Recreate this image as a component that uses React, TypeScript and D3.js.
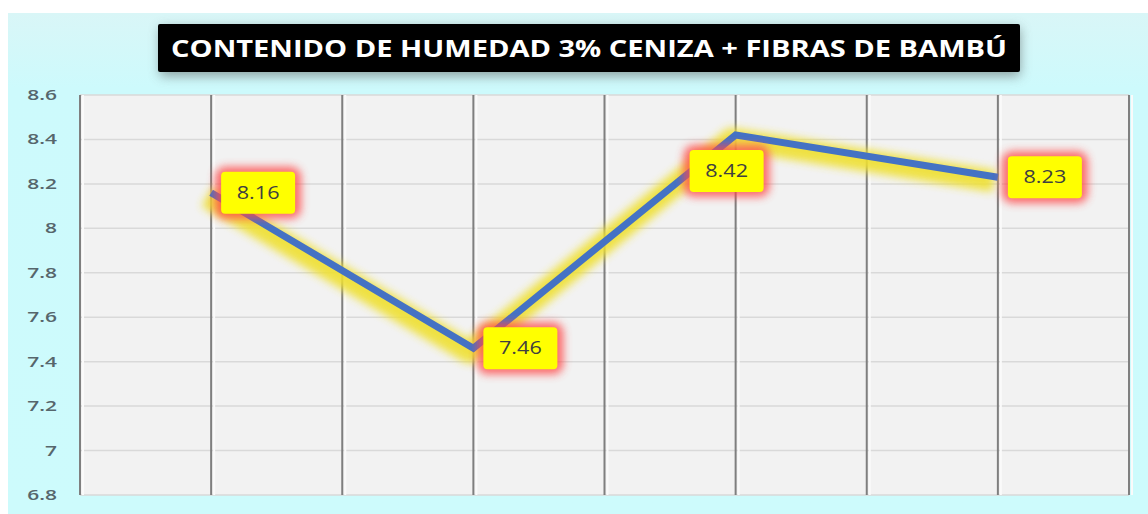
import * as d3 from "d3";
import React from "react";

// data
const samplePositions = [1, 3, 5, 7];
const humidity = [8.16, 7.46, 8.42, 8.23];
const xGridTicks = [0, 1, 2, 3, 4, 5, 6, 7, 8];
const yTicks = [6.8, 7, 7.2, 7.4, 7.6, 7.8, 8, 8.2, 8.4, 8.6];
const title = "CONTENIDO DE HUMEDAD 3% CENIZA + FIBRAS DE BAMBÚ";

// label placement per point (layout only)
const labelPlacement = ["right", "right", "below", "right"];

const W = 1148;
const H = 514;
const plot = { left: 80, right: 1129, top: 95, bottom: 495 };

const App = () => {
  const x = d3.scaleLinear().domain([0, 8]).range([plot.left, plot.right]);
  const y = d3.scaleLinear().domain([6.8, 8.6]).range([plot.bottom, plot.top]);

  const pts = humidity.map((v, i) => ({ v, px: x(samplePositions[i]), py: y(v) }));
  const line = d3
    .line<{ px: number; py: number }>()
    .x((d) => d.px)
    .y((d) => d.py);

  const labelW = 74;
  const labelH = 42;

  return (
    <svg
      width={W}
      height={H}
      style={{ position: "absolute", left: 0, top: 0 }}
      fontFamily="'Open Sans', sans-serif"
    >
      <defs>
        <filter id="soft" x="-50%" y="-50%" width="200%" height="200%">
          <feGaussianBlur stdDeviation="4" />
        </filter>
        <filter id="soft2" x="-50%" y="-50%" width="200%" height="200%">
          <feGaussianBlur stdDeviation="4" />
        </filter>
        <filter id="shadow" x="-20%" y="-80%" width="140%" height="260%">
          <feGaussianBlur stdDeviation="6" />
        </filter>
        <linearGradient id="bg" x1="0" y1="0" x2="0" y2="1">
          <stop offset="0" stopColor="#d9f6f7" />
          <stop offset="0.15" stopColor="#cdfafc" />
          <stop offset="1" stopColor="#cdfbfc" />
        </linearGradient>
      </defs>

      <rect x={0} y={0} width={W} height={H} fill="#ffffff" />
      <rect x={8} y={13} width={W - 8} height={H - 13} fill="url(#bg)" />

      {/* title */}
      <rect x={160} y={28} width={860} height={48} fill="#7a8a8a" opacity={0.8} filter="url(#shadow)" />
      <rect x={158} y={24} width={862} height={48} rx={2} fill="#000000" />
      <text
        x={589}
        y={57}
        textAnchor="middle"
        fill="#ffffff"
        fontWeight="bold"
        fontSize={24}
        textLength={836}
        lengthAdjust="spacingAndGlyphs"
      >
        {title}
      </text>

      {/* plot area */}
      <rect
        x={plot.left}
        y={plot.top}
        width={plot.right - plot.left}
        height={plot.bottom - plot.top}
        fill="#f2f2f2"
      />
      {yTicks.map((t) => (
        <line
          key={"h" + t}
          x1={plot.left}
          x2={plot.right}
          y1={y(t)}
          y2={y(t)}
          stroke="#d9d9d9"
          strokeWidth={1.5}
        />
      ))}
      {xGridTicks.map((t) => (
        <g key={"v" + t}>
          <line
            x1={x(t) + 3}
            x2={x(t) + 3}
            y1={plot.top}
            y2={plot.bottom}
            stroke="#fafafa"
            strokeWidth={2}
          />
          <line
            x1={x(t)}
            x2={x(t)}
            y1={plot.top}
            y2={plot.bottom}
            stroke="#7f7f7f"
            strokeWidth={2}
          />
        </g>
      ))}

      {/* y labels */}
      {yTicks.map((t) => (
        <text
          key={"yl" + t}
          transform={`translate(57,${y(t) + 5}) scale(1.4,1)`}
          textAnchor="end"
          fontSize={15}
          fontWeight={600}
          fill="#56666c"
        >
          {d3.format("~g")(t)}
        </text>
      ))}

      {/* line with yellow glow */}
      <path
        d={line(pts) || ""}
        transform="translate(-4,4)"
        fill="none"
        stroke="#efe030"
        strokeWidth={22}
        strokeLinejoin="round"
        opacity={0.9}
        filter="url(#soft)"
      />
      <path
        d={line(pts) || ""}
        fill="none"
        stroke="#4472c4"
        strokeWidth={7}
        strokeLinejoin="miter"
      />

      {/* data labels */}
      {pts.map((p, i) => {
        const below = labelPlacement[i] === "below";
        const bx = below ? p.px - 46 : p.px + 10;
        const by = below ? p.py + 15 : p.py - labelH / 2;
        return (
          <g key={"lab" + i}>
            <rect
              x={bx - 6}
              y={by - 5}
              width={labelW + 12}
              height={labelH + 10}
              rx={10}
              fill="#ff4a4a"
              opacity={0.8}
              filter="url(#soft2)"
            />
            <rect x={bx} y={by} width={labelW} height={labelH} rx={4} fill="#ffff00" />
            <text
              transform={`translate(${bx + labelW / 2},${by + labelH / 2 + 6}) scale(1.2,1)`}
              textAnchor="middle"
              fontSize={18}
              fill="#404040"
            >
              {p.v.toFixed(2)}
            </text>
          </g>
        );
      })}
    </svg>
  );
};

export default App;
